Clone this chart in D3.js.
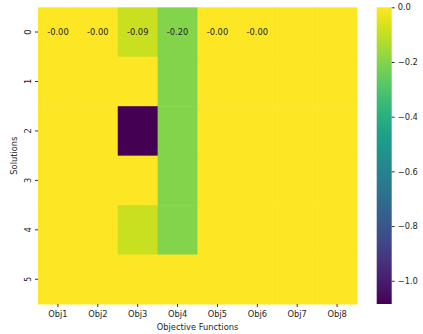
<!DOCTYPE html>
<html>
<head>
<meta charset="utf-8">
<script src="https://cdn.jsdelivr.net/npm/d3@7"></script>
<style>
  body { margin: 0; background: #fff; }
  text { font-family: "DejaVu Sans", sans-serif; }
</style>
</head>
<body>
<svg id="chart" width="423" height="334"></svg>
<script>
// data
var objectives = ["Obj1", "Obj2", "Obj3", "Obj4", "Obj5", "Obj6", "Obj7", "Obj8"];
var solutions = ["0", "1", "2", "3", "4", "5"];
var values = [
  [-0.001, -0.001, -0.09, -0.20, -0.001, -0.001, 0, 0],
  [0, 0, 0, -0.20, 0, 0, 0, 0],
  [0, 0, -1.085, -0.20, 0, 0, 0, 0],
  [0, 0, 0, -0.20, 0, 0, 0, 0],
  [0, 0, -0.09, -0.20, 0, 0, 0, 0],
  [0, 0, 0, 0, 0, 0, 0, 0]
];
// which cells carry an annotation (row, col)
var annotated = [[0, 0], [0, 1], [0, 2], [0, 3], [0, 4], [0, 5]];
var cbTicks = [0.0, -0.2, -0.4, -0.6, -0.8, -1.0];
var vmin = -1.085, vmax = 0;

var svg = d3.select("#chart");
var pLeft = 38, pRight = 357, pTop = 7.3, pBottom = 304;

var x = d3.scaleBand().domain(objectives).range([pLeft, pRight]);
var y = d3.scaleBand().domain(solutions).range([pTop, pBottom]);
var color = d3.scaleSequential(d3.interpolateViridis).domain([vmin, vmax]);

// cells
var cells = [];
values.forEach(function(row, i) {
  row.forEach(function(v, j) { cells.push({r: i, c: j, v: v}); });
});
svg.append("g").selectAll("rect")
  .data(cells)
  .enter().append("rect")
  .attr("x", function(d) { return x(objectives[d.c]); })
  .attr("y", function(d) { return y(solutions[d.r]); })
  .attr("width", x.bandwidth() + 0.5)
  .attr("height", y.bandwidth() + 0.5)
  .attr("fill", function(d) { return color(d.v); });

// annotations
svg.append("g").selectAll("text")
  .data(annotated)
  .enter().append("text")
  .attr("x", function(d) { return x(objectives[d[1]]) + x.bandwidth() / 2; })
  .attr("y", function(d) { return y(solutions[d[0]]) + y.bandwidth() / 2; })
  .attr("text-anchor", "middle")
  .attr("dominant-baseline", "central")
  .style("font-size", "8.3px")
  .style("fill", "#262626")
  .text(function(d) { return values[d[0]][d[1]].toFixed(2); });

// x axis
var xAxis = svg.append("g")
  .attr("transform", "translate(0," + pBottom + ")")
  .call(d3.axisBottom(x).tickSize(3).tickPadding(4));
xAxis.select(".domain").remove();
xAxis.selectAll("text").style("font-size", "8.3px").style("font-family", "DejaVu Sans").attr("fill", "#262626");
xAxis.selectAll("line").attr("stroke", "#333");

// y axis
var yAxis = svg.append("g")
  .attr("transform", "translate(" + pLeft + ",0)")
  .call(d3.axisLeft(y).tickSize(3).tickPadding(4));
yAxis.select(".domain").remove();
yAxis.selectAll("line").attr("stroke", "#333");
yAxis.selectAll("text")
  .style("font-size", "8.3px").style("font-family", "DejaVu Sans").attr("fill", "#262626")
  .attr("text-anchor", "middle")
  .attr("dy", null)
  .attr("x", -10)
  .attr("dominant-baseline", "central")
  .attr("transform", "rotate(-90,-10,0)");

// axis titles
svg.append("text")
  .attr("x", (pLeft + pRight) / 2)
  .attr("y", 330)
  .attr("text-anchor", "middle")
  .style("font-size", "8.3px")
  .style("fill", "#262626")
  .text("Objective Functions");

svg.append("text")
  .attr("transform", "translate(14," + ((pTop + pBottom) / 2) + ") rotate(-90)")
  .attr("text-anchor", "middle")
  .attr("dominant-baseline", "central")
  .style("font-size", "8.3px")
  .style("fill", "#262626")
  .text("Solutions");

// colorbar
var cbX = 376.7, cbW = 15;
var cbScale = d3.scaleLinear().domain([vmin, vmax]).range([pBottom, pTop]);
var grad = svg.append("defs").append("linearGradient")
  .attr("id", "cbgrad")
  .attr("x1", 0).attr("y1", 1).attr("x2", 0).attr("y2", 0);
grad.selectAll("stop")
  .data(d3.range(0, 1.0001, 0.05))
  .enter().append("stop")
  .attr("offset", function(d) { return d; })
  .attr("stop-color", function(d) { return d3.interpolateViridis(d); });
svg.append("rect")
  .attr("x", cbX)
  .attr("y", pTop)
  .attr("width", cbW)
  .attr("height", pBottom - pTop)
  .attr("fill", "url(#cbgrad)");

var cbAxis = svg.append("g")
  .attr("transform", "translate(" + (cbX + cbW) + ",0)")
  .call(d3.axisRight(cbScale).tickValues(cbTicks).tickSize(3).tickPadding(3)
    .tickFormat(function(d) { return d === 0 ? "0.0" : "\u2212" + Math.abs(d).toFixed(1); }));
cbAxis.select(".domain").remove();
cbAxis.selectAll("line").attr("stroke", "#333");
cbAxis.selectAll("text").style("font-size", "8.3px").style("font-family", "DejaVu Sans").attr("fill", "#262626");
</script>
</body>
</html>
